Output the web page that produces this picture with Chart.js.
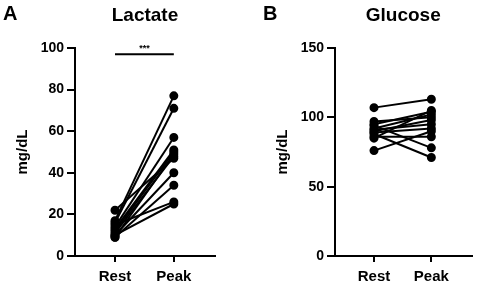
<!DOCTYPE html>
<html>
<head>
<meta charset="utf-8">
<script src="https://cdn.jsdelivr.net/npm/chart.js@4.4.1/dist/chart.umd.min.js"></script>
<style>
  body { margin: 0; background: #fff; width: 477px; height: 287px; position: relative; overflow: hidden; }
  .panel { position: absolute; top: 0; height: 287px; }
  .letter { position: absolute; top: 2px; font: bold 20px "Liberation Sans", Arial, sans-serif; color: #000; }
</style>
</head>
<body>
<div class="panel" style="left:0;width:238px"><canvas id="lactat" width="238" height="287"></canvas></div>
<div class="panel" style="left:238px;width:239px"><canvas id="glukose" width="239" height="287"></canvas></div>
<div class="letter" style="left:3px">A</div>
<div class="letter" style="left:263px">B</div>
<script>
const zeitpunkte = ["Rest", "Peak"];

// Laktat (mg/dL), ein Eintrag pro Proband
const laktatRest = [22, 17, 16, 15, 14, 13, 12, 11, 10, 10, 9, 9];
const laktatPeak = [47, 77, 71, 26, 57, 51, 50, 48, 40, 25, 34, 49];
const laktatTicks = [0, 20, 40, 60, 80, 100];

// Glukose (mg/dL)
const glukoseRest = [107, 97, 95, 94, 92, 91, 90, 89, 88, 86, 85, 76];
const glukosePeak = [113, 100, 104, 78, 102, 95, 98, 92, 71, 86, 105, 90];
const glukoseTicks = [0, 50, 100, 150];

const schrift = "'Liberation Sans', Arial, sans-serif";

function paare(rest, peak) {
    return rest.map((r, i) => ({
        data: [{ x: 0, y: r }, { x: 1, y: peak[i] }],
        borderColor: "#000",
        backgroundColor: "#000",
        borderWidth: 2,
        pointRadius: 3.5,
        pointHoverRadius: 3.5,
        clip: false,
    }));
}

// Titel über der Plotfläche zentriert, plus Signifikanzbalken
const beschriftung = {
    id: "beschriftung",
    afterDatasetsDraw(chart, args, opts) {
        const ctx = chart.ctx;
        const area = chart.chartArea;
        ctx.save();
        ctx.fillStyle = "#000";
        ctx.font = "bold 19px " + schrift;
        ctx.textAlign = "center";
        ctx.textBaseline = "alphabetic";
        ctx.fillText(opts.titel, (area.left + area.right) / 2, 21);
        if (opts.stern) {
            const x0 = chart.scales.x.getPixelForValue(0);
            const x1 = chart.scales.x.getPixelForValue(1);
            const y = chart.scales.y.getPixelForValue(opts.sternWert);
            ctx.strokeStyle = "#000";
            ctx.lineWidth = 2;
            ctx.beginPath();
            ctx.moveTo(x0, y);
            ctx.lineTo(x1, y);
            ctx.stroke();
            ctx.font = "bold 9px " + schrift;
            ctx.textBaseline = "bottom";
            ctx.fillText(opts.stern, (x0 + x1) / 2, y - 1);
        }
        ctx.restore();
    },
};

function zeichne(id, titel, rest, peak, ticks, achsenBreite, titelAbstand, rechts, stern) {
    new Chart(document.getElementById(id), {
        type: "line",
        data: { datasets: paare(rest, peak) },
        plugins: [beschriftung],
        options: {
            responsive: false,
            animation: false,
            layout: { padding: { left: 0, right: rechts, top: 48, bottom: 0 } },
            plugins: {
                legend: { display: false },
                tooltip: { enabled: false },
                title: { display: false },
                beschriftung: { titel: titel, stern: stern, sternWert: 97 },
            },
            scales: {
                x: {
                    type: "linear",
                    min: -0.68,
                    max: 1.7,
                    afterBuildTicks: (s) => { s.ticks = [{ value: 0 }, { value: 1 }]; },
                    afterFit: (s) => { s.height = 31; },
                    ticks: {
                        color: "#000",
                        padding: 6,
                        font: { family: schrift, size: 15, weight: "bold" },
                        callback: (v) => zeitpunkte[v],
                        maxRotation: 0,
                    },
                    grid: { drawOnChartArea: false, color: "#000", lineWidth: 2, tickLength: 6 },
                    border: { color: "#000", width: 2 },
                },
                y: {
                    min: ticks[0],
                    max: ticks[ticks.length - 1],
                    afterBuildTicks: (s) => { s.ticks = ticks.map((v) => ({ value: v })); },
                    afterFit: (s) => { s.width = achsenBreite; },
                    ticks: {
                        color: "#000",
                        padding: 3,
                        font: { family: schrift, size: 14, weight: "bold" },
                    },
                    grid: { drawOnChartArea: false, color: "#000", lineWidth: 2, tickLength: 8 },
                    border: { color: "#000", width: 2 },
                    title: {
                        display: true,
                        text: "mg/dL",
                        color: "#000",
                        font: { family: schrift, size: 15, weight: "bold" },
                        padding: { top: titelAbstand, bottom: 0 },
                    },
                },
            },
        },
    });
}

zeichne("lactat", "Lactate", laktatRest, laktatPeak, laktatTicks, 75, 14, 23, "***");
zeichne("glukose", "Glucose", glukoseRest, glukosePeak, glukoseTicks, 97, 36, 2, "");
</script>
</body>
</html>
